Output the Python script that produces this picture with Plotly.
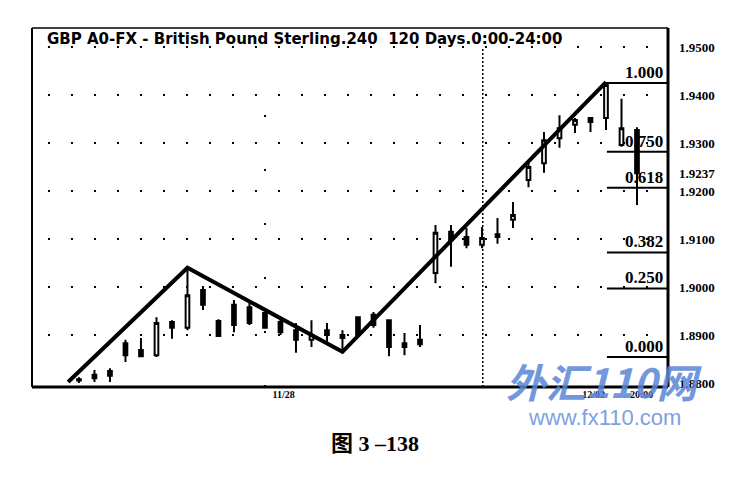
import plotly.graph_objects as go

# ---- data ----
idx = list(range(37))
opens = [1.8805, 1.8817, 1.8825, 1.8883, 1.8869, 1.8858, 1.8927, 1.8915, 1.8994, 1.8929,
         1.8963, 1.8958, 1.8946, 1.8927, 1.8910, 1.8890, 1.8910, 1.8900, 1.8937, 1.8942,
         1.8931, 1.8883, 1.8890, 1.9029, 1.9115, 1.9104, 1.9088, 1.9104, 1.9140, 1.9223,
         1.9258, 1.9310, 1.9338, 1.9352, 1.9352, 1.9296, 1.9327]
highs = [1.8812, 1.8827, 1.8831, 1.8890, 1.8894, 1.8937, 1.8931, 1.9040, 1.9002, 1.8933,
         1.8973, 1.8967, 1.8948, 1.8935, 1.8925, 1.8931, 1.8925, 1.8910, 1.8938, 1.8948,
         1.8931, 1.8904, 1.8921, 1.9129, 1.9129, 1.9123, 1.9125, 1.9144, 1.9177, 1.9260,
         1.9323, 1.9358, 1.9352, 1.9352, 1.9427, 1.9392, 1.9333]
lows = [1.8800, 1.8802, 1.8802, 1.8844, 1.8854, 1.8854, 1.8892, 1.8910, 1.8952, 1.8896,
        1.8906, 1.8921, 1.8913, 1.8900, 1.8863, 1.8875, 1.8883, 1.8865, 1.8900, 1.8915,
        1.8856, 1.8858, 1.8875, 1.9008, 1.9042, 1.9081, 1.9081, 1.9090, 1.9123, 1.9208,
        1.9238, 1.9290, 1.9321, 1.9323, 1.9327, 1.9292, 1.9171]
closes = [1.8808, 1.8810, 1.8815, 1.8858, 1.8856, 1.8925, 1.8915, 1.8983, 1.8963, 1.8898,
          1.8921, 1.8925, 1.8915, 1.8906, 1.8890, 1.8900, 1.8900, 1.8894, 1.8900, 1.8921,
          1.8875, 1.8875, 1.8881, 1.9113, 1.9098, 1.9088, 1.9102, 1.9110, 1.9150, 1.9250,
          1.9306, 1.9331, 1.9348, 1.9344, 1.9421, 1.9331, 1.9237]

zig_x = [-0.7, 7, 17, 34]
zig_y = [1.8802, 1.9040, 1.8865, 1.9427]

fib_labels = ["1.000", "0.750", "0.618", "0.382", "0.250", "0.000"]
fib_prices = [1.9425, 1.9282, 1.9207, 1.9072, 1.8997, 1.8854]

y_ticks = [1.95, 1.94, 1.93, 1.9237, 1.92, 1.91, 1.90, 1.89, 1.88]
y_tick_text = ["1.9500", "1.9400", "1.9300", "1.9237", "1.9200", "1.9100", "1.9000", "1.8900", "1.8800"]
grid_levels = [1.95, 1.94, 1.93, 1.92, 1.91, 1.90, 1.89]

x_ticks = [13.2, 33.2, 36.3]
x_tick_text = ["11/28", "12/02", "20:00"]

title_text = "GBP A0-FX - British Pound Sterling.240  120 Days.0:00-24:00"
caption = "图 3 –138"

X_MIN, X_MAX = -3.03, 38.0
Y_MIN, Y_MAX = 1.87917, 1.95396

fig = go.Figure()

fig.add_trace(go.Candlestick(
    x=idx, open=opens, high=highs, low=lows, close=closes,
    increasing=dict(line=dict(color="black", width=2), fillcolor="white"),
    decreasing=dict(line=dict(color="black", width=2), fillcolor="black"),
    whiskerwidth=0, showlegend=False, hoverinfo="skip"))

fig.add_trace(go.Scatter(x=zig_x, y=zig_y, mode="lines",
                         line=dict(color="black", width=4), showlegend=False,
                         hoverinfo="skip"))

shapes = []
for g in grid_levels:
    shapes.append(dict(type="line", xref="x", yref="y", x0=-2.0, x1=X_MAX, y0=g, y1=g,
                       line=dict(color="black", width=2, dash="2px,21px"), layer="below"))
# vertical dotted lines
shapes.append(dict(type="line", xref="x", yref="y", x0=26.05, x1=26.05, y0=Y_MIN, y1=1.9500,
                   line=dict(color="black", width=1.5, dash="2px,2px"), layer="below"))
shapes.append(dict(type="line", xref="x", yref="y", x0=12, x1=12, y0=Y_MIN, y1=1.9460,
                   line=dict(color="black", width=2, dash="2px,52px"), layer="below"))
# fib lines
for p in fib_prices:
    shapes.append(dict(type="line", xref="x", yref="y", x0=34.06, x1=X_MAX, y0=p, y1=p,
                       line=dict(color="black", width=2)))
# frame
shapes.append(dict(type="line", xref="paper", yref="paper", x0=0, x1=1, y0=0, y1=0,
                   line=dict(color="black", width=3)))
shapes.append(dict(type="line", xref="paper", yref="paper", x0=1, x1=1, y0=0, y1=1,
                   line=dict(color="black", width=3)))
shapes.append(dict(type="line", xref="paper", yref="paper", x0=0, x1=0, y0=0, y1=1,
                   line=dict(color="black", width=2)))
shapes.append(dict(type="line", xref="paper", yref="paper", x0=0, x1=1, y0=1, y1=1,
                   line=dict(color="black", width=1.5)))

annotations = []
for lab, p in zip(fib_labels, fib_prices):
    annotations.append(dict(x=X_MAX, y=p, xref="x", yref="y", text="<b>%s</b>" % lab,
                            showarrow=False, xanchor="right", yanchor="bottom", xshift=-3,
                            yshift=-1,
                            font=dict(family="Liberation Serif", size=17, color="black")))
annotations.append(dict(x=0.02, y=1, xref="paper", yref="paper", text="<b>%s</b>" % title_text,
                        showarrow=False, xanchor="left", yanchor="top", yshift=0,
                        font=dict(family="DejaVu Sans", size=15, color="black")))
annotations.append(dict(x=0.5, y=0, xref="paper", yref="paper", text="<b>%s</b>" % caption,
                        showarrow=False, xanchor="center", yanchor="top", xshift=25, yshift=-42,
                        font=dict(family="Liberation Serif, Noto Sans CJK SC", size=22, color="black")))
# watermark
annotations.append(dict(x=0.9, y=0, xref="paper", yref="paper", text="<b><i>外汇110网</i></b>",
                        showarrow=False, xanchor="center", yanchor="middle", yshift=6,
                        opacity=0.85,
                        font=dict(family="Noto Sans CJK SC", size=40, color="#5a86d8")))
annotations.append(dict(x=0.9, y=0, xref="paper", yref="paper", text="www.fx110.com",
                        showarrow=False, xanchor="center", yanchor="middle", yshift=-30,
                        opacity=0.85,
                        font=dict(family="Liberation Sans", size=22, color="#6a90da")))

fig.update_layout(
    width=748, height=481,
    margin=dict(l=24, r=88, t=20, b=102),
    paper_bgcolor="white", plot_bgcolor="white",
    shapes=shapes, annotations=annotations,
    boxgap=0.66,
    xaxis=dict(range=[X_MIN, X_MAX], showgrid=False, zeroline=False,
               rangeslider=dict(visible=False),
               tickmode="array", tickvals=x_ticks, ticktext=["<b>%s</b>" % t for t in x_tick_text],
               ticks="", tickfont=dict(family="Liberation Serif", size=10, color="black")),
    yaxis=dict(range=[Y_MIN, Y_MAX], side="right", showgrid=False, zeroline=False,
               tickmode="array", tickvals=y_ticks, ticktext=["<b>%s</b>" % t for t in y_tick_text],
               ticks="", ticklabelstandoff=10,
               tickfont=dict(family="Liberation Serif", size=13, color="black")),
)

fig.write_html("out.html")
